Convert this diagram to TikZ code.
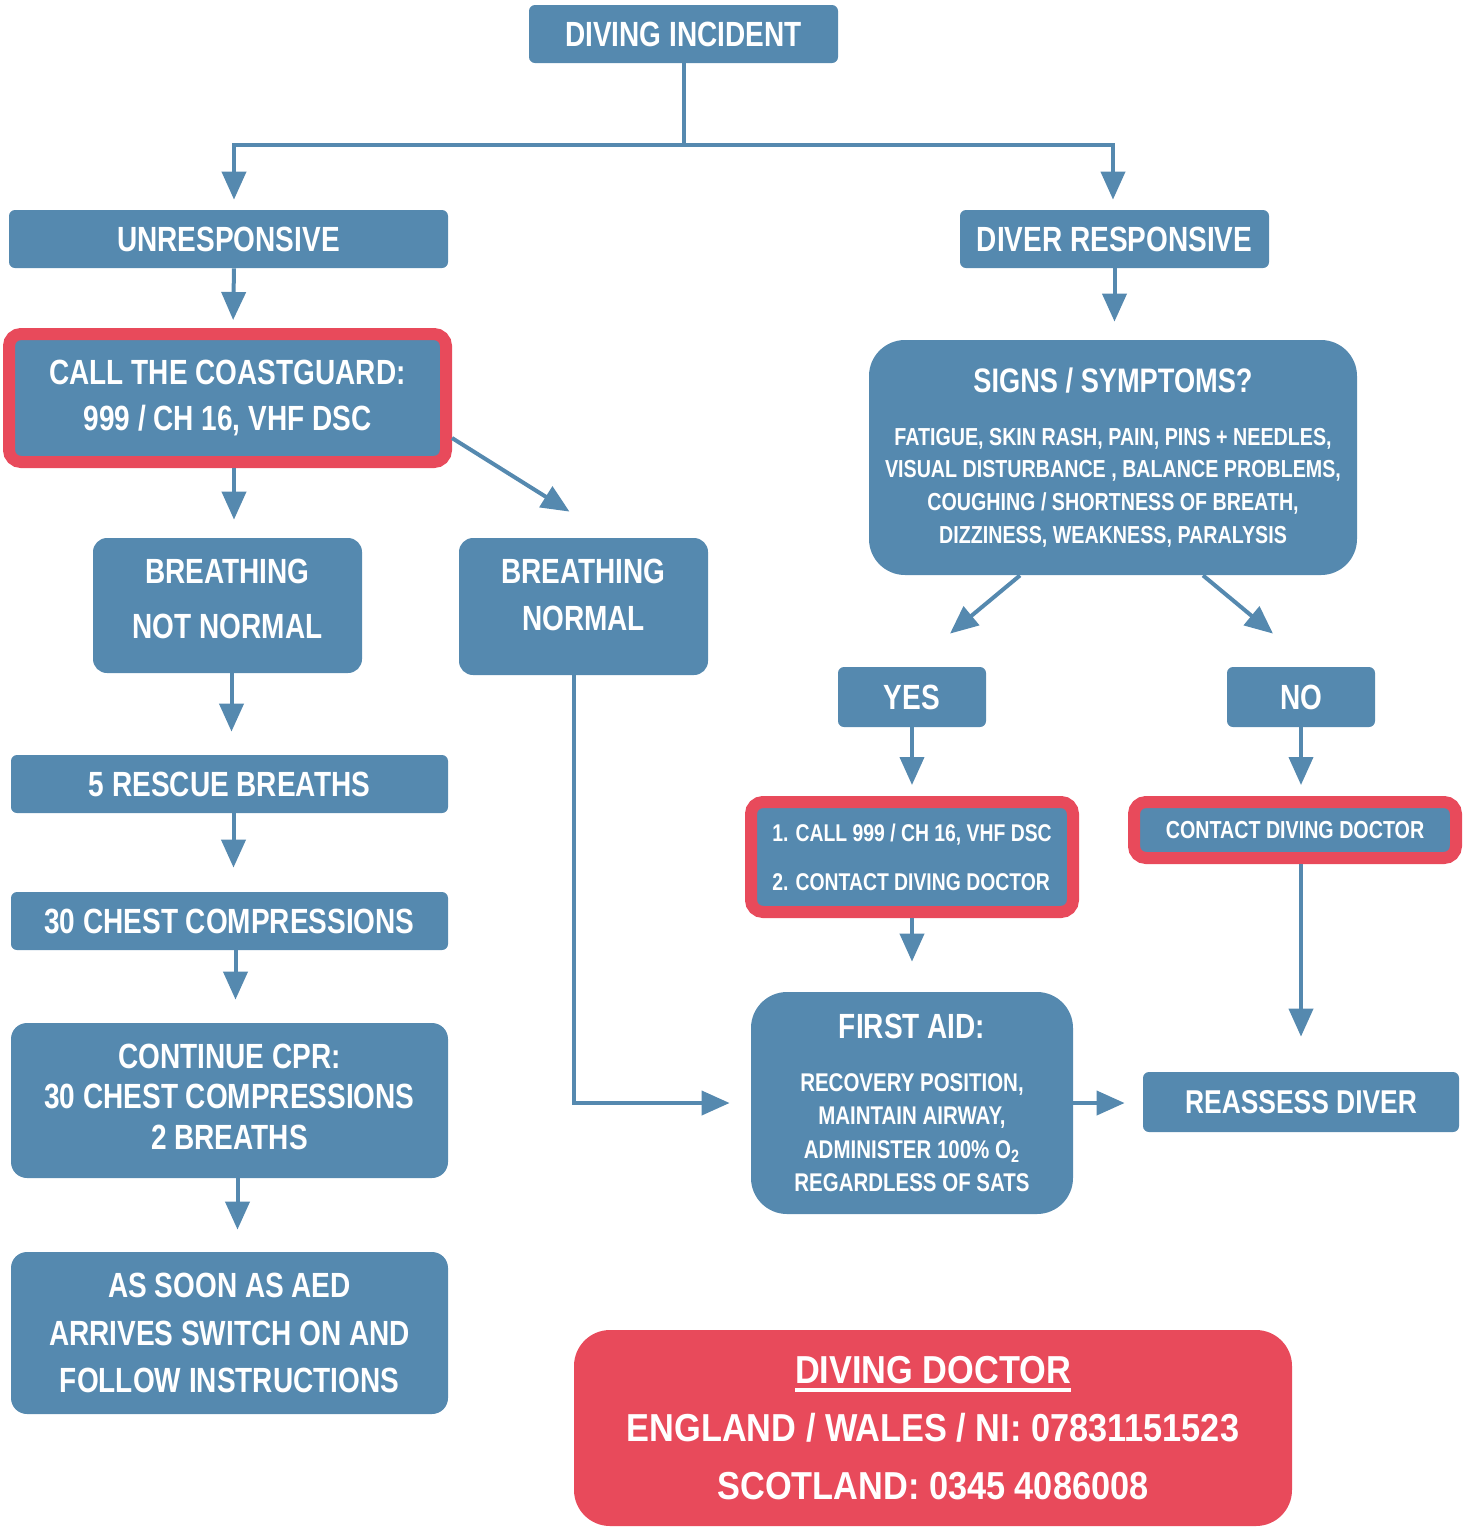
\documentclass[tikz,border=0pt]{standalone}
\usepackage{fontspec}
\usetikzlibrary{arrows.meta}
\newfontfamily\narrowfont[FakeStretch=0.8]{Liberation Sans}
\newfontfamily\docfont[FakeStretch=0.88]{Liberation Sans}
\definecolor{diveblue}{RGB}{85,137,175}
\definecolor{divered}{RGB}{232,74,91}
\newcommand{\setfs}[2]{\fontsize{#1}{#2}\selectfont}
\newcommand{\thickul}[1]{\setbox0\hbox{#1}\rlap{\rule[-4.5pt]{\wd0}{2pt}}\box0}
\tikzset{
    box/.style={fill=diveblue, text=white, align=center, inner sep=0pt,
        rounded corners=3pt, font=\narrowfont\bfseries\setfs{17.5}{21}},
    redbox/.style={box, draw=divered, line width=6pt, rounded corners=6pt},
    arr/.style={draw=diveblue, line width=2pt, -{Triangle[width=12pt,length=14pt]}}
}
\begin{document}
\begin{tikzpicture}[x=0.5pt, y=-0.5pt]
    \useasboundingbox (0,0) rectangle (1467,1528);

    % Top
    \node[box, minimum width=154.5pt, minimum height=29pt] (incident) at (683.5,34) {DIVING INCIDENT};
    \node[box, minimum width=219.5pt, minimum height=29pt] (unresp) at (228.5,239) {UNRESPONSIVE};
    \node[box, minimum width=154.5pt, minimum height=29pt] (diverresp) at (1114.5,239) {DIVER RESPONSIVE};

    % Unresponsive branch
    \node[redbox, minimum width=218.5pt, minimum height=64pt, font=\narrowfont\bfseries\setfs{17.5}{23}]
        (coast) at (227.5,398) {CALL THE COASTGUARD:\\999 / CH 16, VHF DSC};
    \node[box, rounded corners=7pt, minimum width=134.5pt, minimum height=67.5pt, text depth=7pt, font=\narrowfont\bfseries\setfs{17.5}{27.5}]
        (bnot) at (227.5,605.5) {BREATHING\\NOT NORMAL};
    \node[box, rounded corners=7pt, minimum width=124.5pt, minimum height=68.5pt, text depth=12pt, font=\narrowfont\bfseries\setfs{17.5}{23.5}]
        (bnorm) at (583.5,606.5) {BREATHING\\NORMAL};
    \node[box, minimum width=218.5pt, minimum height=29pt] (rescue) at (229.5,784) {5 RESCUE BREATHS};
    \node[box, minimum width=218.5pt, minimum height=29pt] (chest) at (229.5,921) {30 CHEST COMPRESSIONS};
    \node[box, rounded corners=8pt, minimum width=218.5pt, minimum height=77.5pt, text depth=4pt, font=\narrowfont\bfseries\setfs{17.5}{20.25}]
        (cpr) at (229.5,1100.5) {CONTINUE CPR:\\30 CHEST COMPRESSIONS\\2 BREATHS};
    \node[box, rounded corners=8pt, minimum width=218.5pt, minimum height=81pt, font=\narrowfont\bfseries\setfs{17.5}{23.75}]
        (aed) at (229.5,1333) {AS SOON AS AED\\ARRIVES SWITCH ON AND\\FOLLOW INSTRUCTIONS};

    % Responsive branch
    \node[box, rounded corners=18pt, minimum width=244pt, minimum height=117.5pt, font=\narrowfont\bfseries\setfs{12.3}{16.4}]
        (signs) at (1113,457.5) {{\setfs{17}{20}SIGNS / SYMPTOMS?}\\[10pt]
        FATIGUE, SKIN RASH, PAIN, PINS + NEEDLES,\\VISUAL DISTURBANCE , BALANCE PROBLEMS,\\
        COUGHING / SHORTNESS OF BREATH,\\DIZZINESS, WEAKNESS, PARALYSIS};
    \node[box, minimum width=74pt, minimum height=30pt] (yes) at (912,697) {YES};
    \node[box, minimum width=74pt, minimum height=30pt] (no) at (1301,697) {NO};
    \node[redbox, align=left, minimum width=161pt, minimum height=55pt, font=\narrowfont\bfseries\setfs{12.1}{24.5}]
        (call) at (912,857) {1. CALL 999 / CH 16, VHF DSC\\2. CONTACT DIVING DOCTOR};
    \node[redbox, minimum width=161pt, minimum height=28pt, font=\narrowfont\bfseries\setfs{12.3}{14}]
        (contact) at (1295,830) {CONTACT DIVING DOCTOR};
    \node[box, rounded corners=18pt, minimum width=161pt, minimum height=111pt, font=\narrowfont\bfseries\setfs{12.8}{16.7}]
        (firstaid) at (912,1103) {{\setfs{17.5}{20}FIRST AID:}\\[9.5pt]
        RECOVERY POSITION,\\MAINTAIN AIRWAY,\\ADMINISTER 100\% O\textsubscript{2}\\REGARDLESS OF SATS};
    \node[box, minimum width=158pt, minimum height=30pt, font=\narrowfont\bfseries\setfs{16.5}{20}]
        (reassess) at (1301,1102) {REASSESS DIVER};

    % Diving doctor
    \node[box, fill=divered, rounded corners=18pt, minimum width=359pt, minimum height=98pt, font=\docfont\bfseries\setfs{19.5}{29}]
        (doctor) at (933,1428) {\thickul{DIVING DOCTOR}\\ENGLAND / WALES / NI: 07831151523\\SCOTLAND: 0345 4086008};

    % Connections
    \coordinate (split) at (683.5,145);
    \draw[arr, shorten >=5pt] (incident.south) -- (split) -| ([xshift=2.75pt]unresp.north);
    \draw[arr, shorten >=5pt] (split) -| ([xshift=-0.75pt]diverresp.north);
    \draw[arr, shorten >=4pt] ([xshift=2.75pt]unresp.south) -- ([xshift=2.75pt]coast.north);
    \draw[arr, shorten >=9pt] ([xshift=3.25pt]coast.south) -- ([xshift=3.25pt]bnot.north);
    \draw[arr] ([yshift=-20pt]coast.east) -- ([xshift=-7pt,yshift=13pt]bnorm.north);
    \draw[arr, shorten >=11.5pt] ([xshift=2pt]bnot.south) -- ([xshift=2pt]bnot.south |- rescue.north);
    \draw[arr, shorten >=12pt] ([xshift=2pt]rescue.south) -- ([xshift=2pt]rescue.south |- chest.north);
    \draw[arr, shorten >=11.5pt] ([xshift=3pt]chest.south) -- ([xshift=3pt]chest.south |- cpr.north);
    \draw[arr, shorten >=11pt] ([xshift=4pt]cpr.south) -- ([xshift=4pt]cpr.south |- aed.north);
    \draw[arr, shorten >=10.5pt] ([xshift=-5pt]bnorm.south) |- (firstaid.west);

    \draw[arr, shorten >=9pt] (diverresp.south) -- (diverresp.south |- signs.north);
    \draw[arr] ([xshift=-46.5pt]signs.south) -- ([xshift=19pt,yshift=16.5pt]yes.north);
    \draw[arr] ([xshift=45pt]signs.south) -- ([xshift=-14pt,yshift=16.5pt]no.north);
    \draw[arr, shorten >=5.5pt] (yes.south) -- (call.north);
    \draw[arr, shorten >=5.5pt] (no.south) -- (no.south |- contact.north);
    \draw[arr, shorten >=15pt] (call.south) -- (firstaid.north);
    \draw[arr, shorten >=17.5pt] (contact.south -| reassess.north) -- (reassess.north);
    \draw[arr, shorten >=9pt] (firstaid.east) -- (firstaid.east -| reassess.west);
\end{tikzpicture}
\end{document}
